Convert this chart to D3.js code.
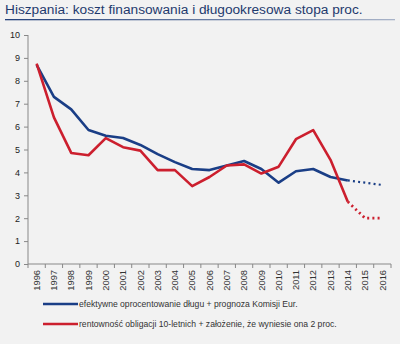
<!DOCTYPE html>
<html><head><meta charset="utf-8">
<script src="https://cdn.jsdelivr.net/npm/d3@7"></script>
<style>body{margin:0;background:#f2f2f2;}svg{display:block;}</style>
</head><body>
<script>
const years = ["1996","1997","1998","1999","2000","2001","2002","2003","2004","2005","2006","2007","2008","2009","2010","2011","2012","2013","2014","2015","2016"];
const effective = [8.7,7.3,6.75,5.85,5.6,5.5,5.2,4.8,4.45,4.15,4.1,4.3,4.5,4.15,3.55,4.05,4.15,3.8,3.65,3.55,3.45];
const yield10 = [8.75,6.4,4.85,4.75,5.5,5.1,4.95,4.1,4.1,3.4,3.8,4.3,4.35,3.95,4.25,5.45,5.85,4.55,2.72,2.0,2.0];
const yTicks = [0,1,2,3,4,5,6,7,8,9,10];
const forecastFrom = "2014";
const legendLabels = ["efektywne oprocentowanie długu + prognoza Komisji Eur.","rentowność obligacji 10-letnich + założenie, że wyniesie ona 2 proc."];
const colors = ["#1a3e86","#cc1f2e"];

const W=400,H=344;
const svg=d3.select("body").append("svg").attr("width",W).attr("height",H);
svg.append("rect").attr("width",W).attr("height",H).attr("fill","#f2f2f2");

svg.append("text").attr("x",5).attr("y",14).attr("font-family","Liberation Sans, Arial, sans-serif")
  .attr("font-size",13.7).attr("fill","#1f3a6e").text("Hiszpania: koszt finansowania i długookresowa stopa proc.");
const grad=svg.append("defs").append("linearGradient").attr("id","ul");
grad.append("stop").attr("offset","0%").attr("stop-color","#23407a");
grad.append("stop").attr("offset","100%").attr("stop-color","#a8b3c8");
svg.append("rect").attr("x",5).attr("y",19).attr("width",390).attr("height",1.3).attr("fill","url(#ul)");

const x=d3.scaleBand().domain(years).range([28,391]);
const y=d3.scaleLinear().domain([0,10]).range([264,35]);

const ya=svg.append("g").attr("transform","translate(28,0)")
  .call(d3.axisLeft(y).tickValues(yTicks).tickSize(4).tickPadding(4));
ya.selectAll("text").attr("font-family","Liberation Sans, Arial, sans-serif").attr("font-size",9).attr("fill","#222");
ya.selectAll("line,path").attr("stroke","#888");
ya.select("path").attr("d","M0,35V264");

const xa=svg.append("g").attr("transform","translate(0,264)")
  .call(d3.axisBottom(x).tickSize(0).tickPadding(0));
xa.select("path").attr("stroke","#888").attr("d","M28,0H391");
xa.selectAll(".tick text").attr("font-family","Liberation Sans, Arial, sans-serif").attr("font-size",9.3)
  .attr("fill","#333").attr("text-anchor","end").attr("dy","0.35em")
  .attr("transform","translate(0,6) rotate(-90)");
xa.selectAll(".bt").data(d3.range(years.length+1)).enter().append("line")
  .attr("x1",i=>28+i*x.step()).attr("x2",i=>28+i*x.step()).attr("y1",0).attr("y2",4).attr("stroke","#888");

const cx=d=>x(d)+x.bandwidth()/2;
const fi=years.indexOf(forecastFrom);
[effective,yield10].forEach((vals,k)=>{
  const pts=years.map((yr,i)=>[cx(yr),y(vals[i])]);
  const line=d3.line();
  svg.append("path").attr("d",line(pts.slice(0,fi+1))).attr("fill","none")
    .attr("stroke",colors[k]).attr("stroke-width",2.6).attr("stroke-linejoin","round");
  svg.append("path").attr("d",line(pts.slice(fi))).attr("fill","none")
    .attr("stroke",colors[k]).attr("stroke-width",k===1?2.8:2.2).attr("stroke-dasharray","2,3.2");
});

legendLabels.forEach((t,k)=>{
  const ly=304+k*20;
  svg.append("line").attr("x1",43).attr("x2",78).attr("y1",ly).attr("y2",ly).attr("stroke",colors[k]).attr("stroke-width",2.6);
  svg.append("text").attr("x",79).attr("y",ly+3).attr("font-family","Liberation Sans, Arial, sans-serif")
    .attr("font-size",8.6).attr("fill","#333").text(t);
});
</script>
</body></html>
